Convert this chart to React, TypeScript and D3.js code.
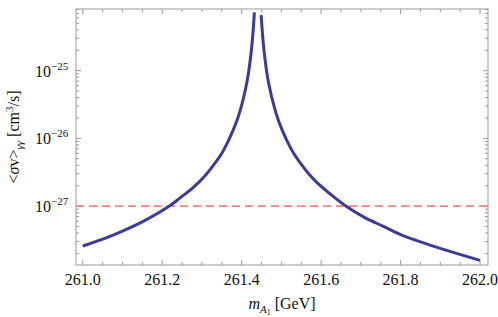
import React, { useEffect, useRef } from 'react';
import * as d3 from 'd3';

// left branch of the resonance (mass in GeV, <sigma v> in cm^3/s)
const leftMass = [261.0, 261.067, 261.1, 261.151, 261.218, 261.245, 261.277, 261.302, 261.331, 261.352, 261.371, 261.392, 261.4135, 261.425, 261.432];
const leftSigma = [2.57e-28, 3.55e-28, 4.27e-28, 5.89e-28, 1.0e-27, 1.32e-27, 1.86e-27, 2.57e-27, 4.17e-27, 6.31e-27, 1.05e-26, 2.14e-26, 6.92e-26, 2.14e-25, 7.24e-25];
// right branch
const rightMass = [261.449, 261.456, 261.467, 261.486, 261.502, 261.522, 261.535, 261.547, 261.568, 261.589, 261.631, 261.665, 261.71, 261.757, 261.8, 261.841, 261.924, 262.0];
const rightSigma = [6.61e-25, 2.04e-25, 6.92e-26, 2.4e-26, 1.32e-26, 7.41e-27, 5.5e-27, 4.37e-27, 3.02e-27, 2.24e-27, 1.38e-27, 9.77e-28, 6.76e-28, 5.01e-28, 3.8e-28, 3.09e-28, 2.14e-28, 1.58e-28];
// reference line
const limitSigma = 1e-27;

const xTicks = [261.0, 261.2, 261.4, 261.6, 261.8, 262.0];
const yTickExps = [-27, -26, -25];

const FONT = 'Liberation Serif, DejaVu Serif, serif';

const App = () => {
  const ref = useRef<SVGSVGElement>(null);

  useEffect(() => {
    const width = 498,
      height = 317,
      margin = { top: 9, right: 10, bottom: 52, left: 76 };
    const svg = d3.select(ref.current);
    svg.selectAll('*').remove();

    const x = d3
      .scaleLinear()
      .domain([260.983, 262.02])
      .range([margin.left, width - margin.right]);
    const y = d3
      .scaleLog()
      .domain([Math.pow(10, -27.87), Math.pow(10, -24.09)])
      .range([height - margin.bottom, margin.top]);

    const frame = '#999999';
    const x0 = margin.left,
      x1 = width - margin.right,
      y0 = margin.top,
      y1 = height - margin.bottom;

    // minor + major ticks on all four sides
    const ticks = svg.append('g').attr('stroke', frame).attr('stroke-width', 1);
    const xMinor = d3.range(0, 21).map((i) => 261.0 + i * 0.05);
    xMinor.forEach((v, i) => {
      const len = i % 4 === 0 ? 5 : 3;
      const px = x(v);
      ticks.append('line').attr('x1', px).attr('x2', px).attr('y1', y1).attr('y2', y1 - len);
      ticks.append('line').attr('x1', px).attr('x2', px).attr('y1', y0).attr('y2', y0 + len);
    });
    const [lo, hi] = y.domain();
    for (let e = -28; e <= -25; e++) {
      for (let m = 1; m <= 9; m++) {
        const v = m * Math.pow(10, e);
        if (v < lo || v > hi) continue;
        const len = m === 1 ? 5 : 3;
        const py = y(v);
        ticks.append('line').attr('x1', x0).attr('x2', x0 + len).attr('y1', py).attr('y2', py);
        ticks.append('line').attr('x1', x1).attr('x2', x1 - len).attr('y1', py).attr('y2', py);
      }
    }

    // frame
    svg
      .append('rect')
      .attr('x', x0)
      .attr('y', y0)
      .attr('width', x1 - x0)
      .attr('height', y1 - y0)
      .attr('fill', 'none')
      .attr('stroke', frame)
      .attr('stroke-width', 1);

    const txt = (sel: any) => sel.style('font-family', FONT).attr('fill', '#111');

    // x tick labels
    svg
      .append('g')
      .selectAll('text')
      .data(xTicks)
      .enter()
      .append('text')
      .call(txt)
      .attr('x', (d) => x(d))
      .attr('y', y1 + 20)
      .attr('text-anchor', 'middle')
      .style('font-size', '16px')
      .text((d) => d.toFixed(1));

    // y tick labels 10^n
    const yl = svg
      .append('g')
      .selectAll('text')
      .data(yTickExps)
      .enter()
      .append('text')
      .call(txt)
      .attr('x', x0 - 41)
      .attr('y', (d) => y(Math.pow(10, d)) + 6)
      .style('font-size', '16px');
    yl.append('tspan').text('10');
    yl.append('tspan')
      .attr('dy', -7)
      .style('font-size', '11px')
      .text((d) => '\u2212' + Math.abs(d));

    // dashed limit line
    svg
      .append('line')
      .attr('x1', x0)
      .attr('x2', x1)
      .attr('y1', y(limitSigma))
      .attr('y2', y(limitSigma))
      .attr('stroke', '#ff8080')
      .attr('stroke-width', 1.6)
      .attr('stroke-dasharray', '8,5');

    // resonance curve, two branches
    const line = d3
      .line<[number, number]>()
      .x((d) => x(d[0]))
      .y((d) => y(d[1]))
      .curve(d3.curveCatmullRom.alpha(0.5));
    const branches = [
      leftMass.map((m, i) => [m, leftSigma[i]] as [number, number]),
      rightMass.map((m, i) => [m, rightSigma[i]] as [number, number]),
    ];
    svg
      .append('g')
      .selectAll('path')
      .data(branches)
      .enter()
      .append('path')
      .attr('d', (d) => line(d))
      .attr('fill', 'none')
      .attr('stroke', '#3b3b98')
      .attr('stroke-width', 3);

    // axis titles
    const xt = svg
      .append('text')
      .call(txt)
      .attr('x', (x0 + x1) / 2)
      .attr('y', height - 8)
      .attr('text-anchor', 'middle')
      .style('font-size', '16px');
    xt.append('tspan').style('font-style', 'italic').text('m');
    xt.append('tspan').attr('dy', 4).style('font-size', '11px').style('font-style', 'italic').text('A');
    xt.append('tspan').attr('dy', 2).style('font-size', '8px').text('1');
    xt.append('tspan').attr('dy', -6).text('\u00a0[GeV]');

    const yt = svg
      .append('text')
      .call(txt)
      .attr('transform', `translate(19, ${(y0 + y1) / 2}) rotate(-90)`)
      .attr('text-anchor', 'middle')
      .style('font-size', '16px');
    yt.append('tspan').text('<');
    yt.append('tspan').style('font-style', 'italic').text('\u03c3');
    yt.append('tspan').text('v>');
    yt.append('tspan').attr('dy', 4).style('font-size', '11px').style('font-style', 'italic').text('\u03b3\u03b3');
    yt.append('tspan').attr('dy', -4).text('\u00a0[cm');
    yt.append('tspan').attr('dy', -6).style('font-size', '11px').text('3');
    yt.append('tspan').attr('dy', 6).text('/s]');
  }, []);

  return <svg ref={ref} width={498} height={317} style={{ display: 'block', position: 'absolute', left: 0, top: 0 }} />;
};

export default App;
